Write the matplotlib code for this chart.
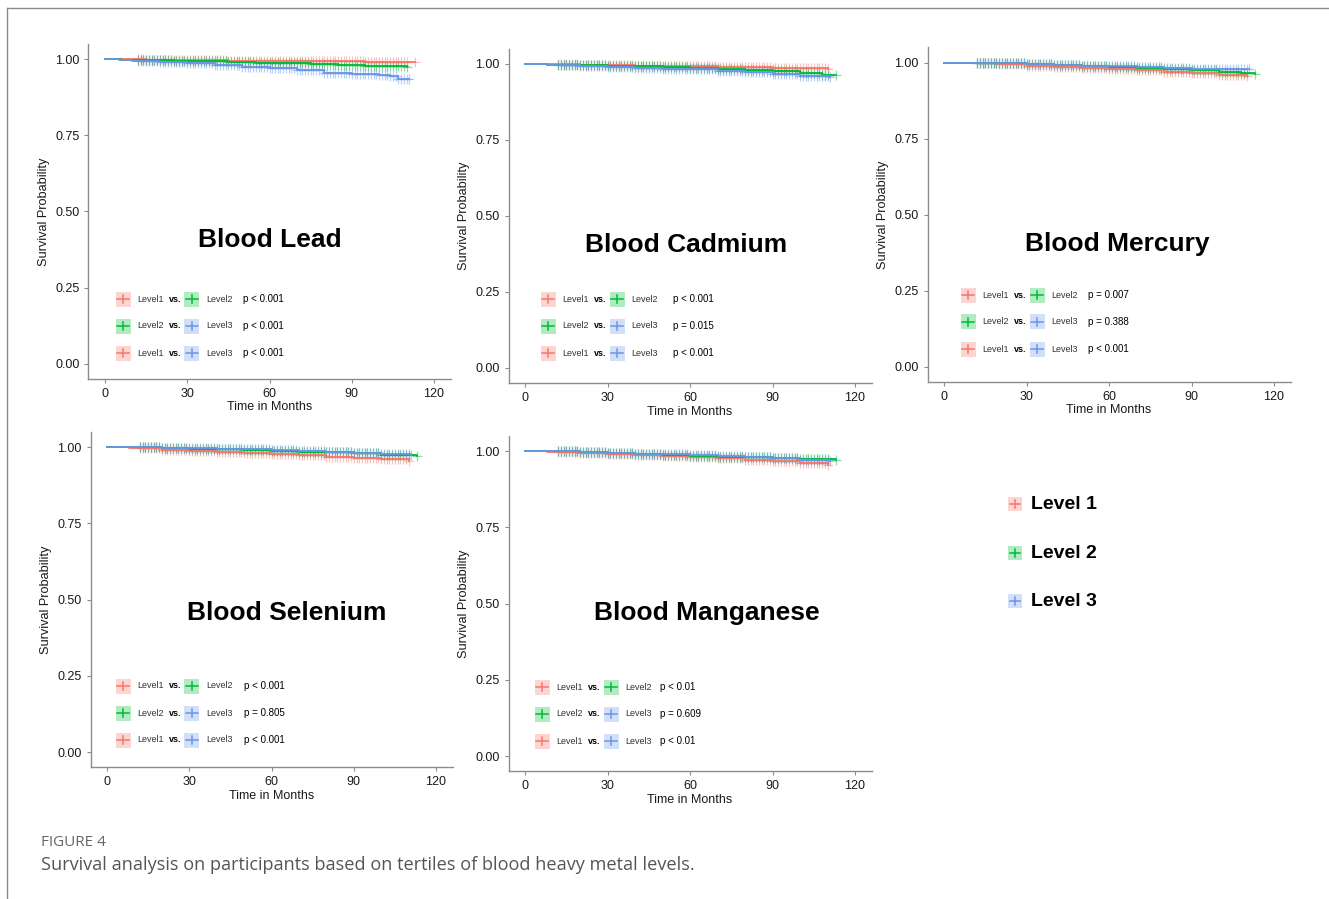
import matplotlib
matplotlib.use("Agg")
import matplotlib.pyplot as plt
from matplotlib.lines import Line2D
from matplotlib.patches import Rectangle
import numpy as np

plt.rcParams['font.family'] = ['Liberation Sans', 'DejaVu Sans']

W, H = 1329, 899

# couleurs ggplot par défaut pour les tertiles
COLORS = ['#F8766D', '#00BA38', '#6A95E8']
LEVELS = ['Level1', 'Level2', 'Level3']
PAIRS = [(0, 1), (1, 2), (0, 2)]

# Courbes de Kaplan-Meier (mois, survie)
LEAD_T = [[0, 8, 15, 25, 35, 45, 55, 65, 75, 85, 95, 105, 113],
          [0, 6, 15, 25, 35, 45, 55, 65, 75, 85, 95, 105, 110],
          [0, 5, 10, 20, 30, 40, 50, 60, 70, 80, 90, 100, 104, 107, 111]]
LEAD_S = [[1.0, 0.999, 0.998, 0.997, 0.996, 0.995, 0.995, 0.994, 0.993, 0.992, 0.991, 0.990, 0.990],
          [1.0, 0.998, 0.996, 0.994, 0.992, 0.990, 0.988, 0.986, 0.984, 0.981, 0.978, 0.976, 0.975],
          [1.0, 0.998, 0.995, 0.990, 0.986, 0.981, 0.975, 0.970, 0.963, 0.955, 0.952, 0.947, 0.943, 0.936, 0.935]]

CADMIUM_T = [[0, 8, 20, 30, 40, 50, 60, 70, 80, 90, 100, 110],
             [0, 8, 20, 30, 40, 50, 60, 70, 80, 90, 100, 108, 113],
             [0, 8, 20, 30, 40, 50, 60, 70, 80, 90, 100, 111]]
CADMIUM_S = [[1.0, 0.999, 0.997, 0.996, 0.995, 0.993, 0.992, 0.991, 0.990, 0.988, 0.986, 0.985],
             [1.0, 0.998, 0.996, 0.994, 0.992, 0.990, 0.988, 0.985, 0.981, 0.977, 0.972, 0.965, 0.963],
             [1.0, 0.996, 0.993, 0.990, 0.988, 0.985, 0.982, 0.978, 0.973, 0.968, 0.962, 0.957]]

MERCURY_T = [[0, 8, 20, 30, 40, 50, 60, 70, 80, 90, 100, 110],
             [0, 8, 20, 30, 40, 50, 60, 70, 80, 90, 100, 108, 113],
             [0, 8, 20, 30, 40, 50, 60, 70, 80, 90, 100, 111]]
MERCURY_S = [[1.0, 0.998, 0.994, 0.990, 0.986, 0.982, 0.978, 0.974, 0.970, 0.966, 0.958, 0.955],
             [1.0, 0.999, 0.997, 0.995, 0.992, 0.989, 0.985, 0.982, 0.978, 0.975, 0.970, 0.964, 0.962],
             [1.0, 0.999, 0.997, 0.994, 0.992, 0.990, 0.987, 0.985, 0.982, 0.980, 0.979, 0.978]]

SELENIUM_T = [[0, 8, 20, 30, 40, 50, 60, 70, 80, 90, 100, 110],
              [0, 8, 20, 30, 40, 50, 60, 70, 80, 90, 100, 113],
              [0, 8, 20, 30, 40, 50, 60, 70, 80, 90, 100, 111]]
SELENIUM_S = [[1.0, 0.996, 0.991, 0.988, 0.985, 0.982, 0.978, 0.974, 0.969, 0.965, 0.960, 0.955],
              [1.0, 0.999, 0.997, 0.995, 0.993, 0.990, 0.988, 0.985, 0.983, 0.980, 0.975, 0.972],
              [1.0, 0.999, 0.998, 0.996, 0.994, 0.992, 0.990, 0.987, 0.984, 0.982, 0.978, 0.975]]

MANGANESE_T = [[0, 8, 20, 30, 40, 50, 60, 70, 80, 90, 100, 110],
               [0, 8, 20, 30, 40, 50, 60, 70, 80, 90, 100, 113],
               [0, 8, 20, 30, 40, 50, 60, 70, 80, 90, 100, 111]]
MANGANESE_S = [[1.0, 0.998, 0.994, 0.990, 0.987, 0.984, 0.980, 0.976, 0.972, 0.968, 0.960, 0.955],
               [1.0, 0.999, 0.997, 0.994, 0.991, 0.988, 0.985, 0.982, 0.980, 0.977, 0.974, 0.970],
               [1.0, 0.999, 0.997, 0.994, 0.991, 0.989, 0.986, 0.983, 0.980, 0.976, 0.972, 0.968]]

# temps de censure (marques +)
CENSOR_MONTHS = [12, 13, 14, 15, 16, 17, 18, 19, 20, 21, 22, 23, 24, 25, 26, 27, 28, 29, 30,
                 31, 32, 33, 34, 35, 36, 37, 38, 39, 40, 41, 42, 43, 44, 45, 46, 47, 48, 49, 50,
                 51, 52, 53, 54, 55, 56, 57, 58, 59, 60, 61, 62, 63, 64, 65, 66, 67, 68, 69, 70,
                 71, 72, 73, 74, 75, 76, 77, 78, 79, 80, 81, 82, 83, 84, 85, 86, 87, 88, 89, 90,
                 91, 92, 93, 94, 95, 96, 97, 98, 99, 100, 101, 102, 103, 104, 105, 106, 107, 108,
                 109, 110]

TITLES = ['Blood Lead', 'Blood Cadmium', 'Blood Mercury', 'Blood Selenium', 'Blood Manganese']
P_VALUES = [['p < 0.001', 'p < 0.001', 'p < 0.001'],
            ['p < 0.001', 'p = 0.015', 'p < 0.001'],
            ['p = 0.007', 'p = 0.388', 'p < 0.001'],
            ['p < 0.001', 'p = 0.805', 'p < 0.001'],
            ['p < 0.01', 'p = 0.609', 'p < 0.01']]
CURVES = [(LEAD_T, LEAD_S), (CADMIUM_T, CADMIUM_S), (MERCURY_T, MERCURY_S),
          (SELENIUM_T, SELENIUM_S), (MANGANESE_T, MANGANESE_S)]

# boîtes des axes en pixels : gauche, haut, droite, bas
BOXES = [(88.5, 43.8, 450.5, 379.0),
         (508.5, 48.8, 871.5, 383.2),
         (927.5, 47.3, 1290.5, 382.0),
         (90.5, 431.8, 452.5, 767.3),
         (508.5, 435.8, 871.5, 771.3)]
TITLE_POS = [(60, 0.405), (58.5, 0.405), (63, 0.403), (65.7, 0.456), (66, 0.469)]
# légende interne : x de la première clé, y de la première ligne, décalage du p
LEG_POS = [(123, 299, 120), (548, 299, 125), (968, 295, 120), (123, 686, 121), (542, 687, 118)]

fig = plt.figure(figsize=(W / 100, H / 100), dpi=100)


def fx(px):
    return px / W


def fy(py):
    return 1 - py / H


def draw_key(cx, cy, color, size=15, half=6):
    fig.add_artist(Rectangle((fx(cx - size / 2), fy(cy + size / 2)), size / W, size / H,
                             transform=fig.transFigure, facecolor=color, alpha=0.3, edgecolor='none'))
    fig.add_artist(Line2D([fx(cx - half), fx(cx + half)], [fy(cy), fy(cy)],
                          transform=fig.transFigure, color=color, lw=1.1))
    fig.add_artist(Line2D([fx(cx), fx(cx)], [fy(cy - 4), fy(cy + 4)],
                          transform=fig.transFigure, color=color, lw=1.1))


for i, (l, t, r, b) in enumerate(BOXES):
    ax = fig.add_axes([fx(l), fy(b), (r - l) / W, (b - t) / H])
    times, survs = CURVES[i]
    for k in range(3):
        tt = np.array(times[k], dtype=float)
        ss = np.array(survs[k], dtype=float)
        ax.step(tt, ss, where='post', color=COLORS[k], lw=1.3, zorder=3 + k * 0.1)
        cens = np.array([c for c in CENSOR_MONTHS if c < tt[-1]] + [tt[-1]], dtype=float)
        idx = np.searchsorted(tt, cens, side='right') - 1
        ax.plot(cens, ss[idx], linestyle='none', marker='+', markersize=6.5, mew=0.9,
                color=COLORS[k], alpha=0.45, zorder=2 + k * 0.1)
    ax.set_xlim(-6, 126)
    ax.set_ylim(-0.05, 1.05)
    ax.set_xticks([0, 30, 60, 90, 120])
    ax.set_yticks([0, 0.25, 0.5, 0.75, 1.0])
    ax.set_yticklabels(['0.00', '0.25', '0.50', '0.75', '1.00'])
    for s in ['top', 'right']:
        ax.spines[s].set_visible(False)
    for s in ['left', 'bottom']:
        ax.spines[s].set_color('#8c8c8c')
        ax.spines[s].set_linewidth(1.0)
    ax.tick_params(colors='#8c8c8c', labelcolor='#1a1a1a', labelsize=9, length=3, width=0.8)
    ax.set_xlabel('Time in Months', fontsize=9, color='#1a1a1a', labelpad=1)
    ax.set_ylabel('Survival Probability', fontsize=9.2, color='#1a1a1a', labelpad=4)
    ax.text(TITLE_POS[i][0], TITLE_POS[i][1], TITLES[i], fontsize=19, fontweight='bold',
            ha='center', va='center', color='black')

    # légende des comparaisons deux à deux
    kx, ky, poff = LEG_POS[i]
    for j, (a, bb) in enumerate(PAIRS):
        y = ky + 27 * j
        draw_key(kx, y, COLORS[a])
        fig.text(fx(kx + 14), fy(y), LEVELS[a], fontsize=6.5, color='#333333', va='center')
        fig.text(fx(kx + 46), fy(y), 'vs.', fontsize=6.5, fontweight='bold', color='black', va='center')
        draw_key(kx + 69, y, COLORS[bb])
        fig.text(fx(kx + 83), fy(y), LEVELS[bb], fontsize=6.5, color='#333333', va='center')
        fig.text(fx(kx + poff), fy(y), P_VALUES[i][j], fontsize=7, color='black', va='center')

# légende générale
for k, y in enumerate([504, 553, 601]):
    draw_key(1015, y, COLORS[k], size=14, half=5)
    fig.text(fx(1031), fy(y), 'Level %d' % (k + 1), fontsize=14, fontweight='bold',
             color='black', va='center')

# cadre de la page
fig.add_artist(Line2D([fx(7), 1], [fy(8), fy(8)], transform=fig.transFigure, color='#8a8a8a', lw=1.0))
fig.add_artist(Line2D([fx(7), fx(7)], [fy(8), 0], transform=fig.transFigure, color='#8a8a8a', lw=1.0))

fig.text(fx(41), fy(843), 'FIGURE 4', fontsize=11, color='#666666', va='center',
         family=['Open Sans', 'DejaVu Sans'])
fig.text(fx(41), fy(865), 'Survival analysis on participants based on tertiles of blood heavy metal levels.',
         fontsize=13.1, color='#555555', va='center', family=['Open Sans', 'DejaVu Sans'])

fig.savefig('out.png', dpi=100)
